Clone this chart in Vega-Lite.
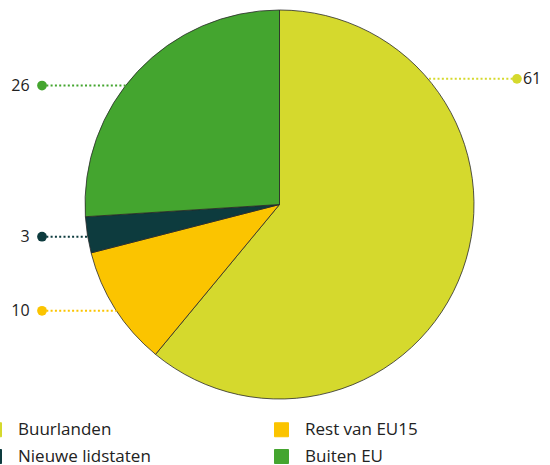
{
  "$schema": "https://vega.github.io/schema/vega-lite/v6.json",
  "width": 550,
  "height": 465,
  "autosize": {"type": "none"},
  "padding": 0,
  "background": "white",
  "config": {"view": {"stroke": null}, "font": "Open Sans"},
  "data": {
    "values": [
      {"category": "Buurlanden", "value": 61, "anchor": 13.83},
      {"category": "Rest van EU15", "value": 10, "anchor": 65.8},
      {"category": "Nieuwe lidstaten", "value": 3, "anchor": 72.35},
      {"category": "Buiten EU", "value": 26, "anchor": 85.47}
    ]
  },
  "transform": [
    {"window": [{"op": "row_number", "as": "order"}]},
    {"calculate": "sin(2*PI*datum.anchor/100)", "as": "edgeX"},
    {"calculate": "cos(2*PI*datum.anchor/100)", "as": "edgeY"},
    {"calculate": "datum.edgeX < 0 ? -1.221 : 1.221", "as": "dotX"},
    {"calculate": "datum.edgeX < 0 ? -1.285 : 1.252", "as": "textX"}
  ],
  "layer": [
    {
      "mark": {"type": "arc", "outerRadius": 194.5, "stroke": "#2a2a2a", "strokeWidth": 0.8, "x": 279.5, "y": 204.5},
      "encoding": {
        "theta": {"field": "value", "type": "quantitative", "stack": true},
        "order": {"field": "order", "type": "quantitative"},
        "color": {
          "field": "category",
          "type": "nominal",
          "scale": {
            "domain": ["Buurlanden", "Nieuwe lidstaten", "Rest van EU15", "Buiten EU"],
            "range": ["#d5d92d", "#0d3b3e", "#fbc400", "#44a52f"]
          },
          "legend": {
            "orient": "none",
            "legendX": -14,
            "legendY": 421,
            "columns": 2,
            "title": null,
            "symbolType": "square",
            "symbolSize": 196,
            "symbolStrokeColor": "#333333",
            "symbolStrokeWidth": 1,
            "labelFontSize": 17,
            "labelColor": "#222222",
            "labelFont": "Open Sans",
            "labelOffset": 15,
            "columnPadding": 121,
            "rowPadding": 8,
            "labelLimit": 300,
            "padding": 0
          }
        }
      }
    },
    {
      "mark": {"type": "rule", "strokeWidth": 2, "strokeDash": [2, 2.3]},
      "encoding": {
        "x": {"field": "dotX", "type": "quantitative", "scale": {"domain": [-1.437, 1.391], "nice": false, "zero": false}, "axis": null},
        "x2": {"field": "edgeX"},
        "y": {"field": "edgeY", "type": "quantitative", "scale": {"domain": [-1.339, 1.051], "nice": false, "zero": false}, "axis": null},
        "color": {"field": "category", "type": "nominal"}
      }
    },
    {
      "mark": {"type": "point", "filled": true, "size": 95, "opacity": 1, "strokeWidth": 0},
      "encoding": {
        "x": {"field": "dotX", "type": "quantitative"},
        "y": {"field": "edgeY", "type": "quantitative"},
        "color": {"field": "category", "type": "nominal"}
      }
    },
    {
      "transform": [{"filter": "datum.edgeX < 0"}],
      "mark": {"type": "text", "align": "right", "baseline": "middle", "fontSize": 16, "color": "#222222", "font": "Open Sans"},
      "encoding": {
        "x": {"field": "textX", "type": "quantitative"},
        "y": {"field": "edgeY", "type": "quantitative"},
        "text": {"field": "value", "type": "quantitative"}
      }
    },
    {
      "transform": [{"filter": "datum.edgeX > 0"}],
      "mark": {"type": "text", "align": "left", "baseline": "middle", "fontSize": 16, "color": "#222222", "font": "Open Sans"},
      "encoding": {
        "x": {"field": "textX", "type": "quantitative"},
        "y": {"field": "edgeY", "type": "quantitative"},
        "text": {"field": "value", "type": "quantitative"}
      }
    }
  ]
}
